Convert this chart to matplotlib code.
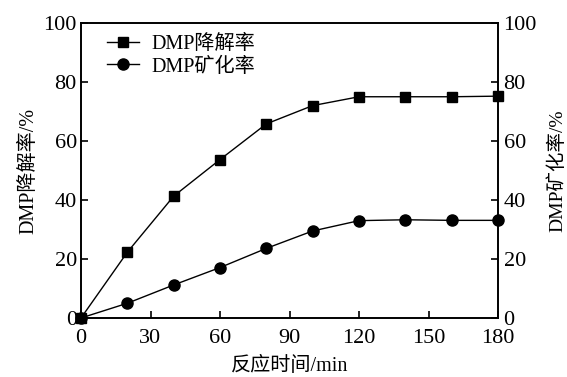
import matplotlib
matplotlib.use("Agg")
from matplotlib import pyplot as plt

plt.rcParams['font.family'] = ['Liberation Serif', 'Noto Sans CJK SC']
plt.rcParams['font.size'] = 14
plt.rcParams['axes.unicode_minus'] = False

# reaction time (min)
time = [0, 20, 40, 60, 80, 100, 120, 140, 160, 180]
# DMP degradation rate (%)
degradation = [0, 22.3, 41.3, 53.7, 65.8, 72.0, 75.0, 75.0, 75.0, 75.2]
# DMP mineralization rate (%)
mineralization = [0, 5.0, 11.2, 17.1, 23.6, 29.5, 33.0, 33.3, 33.1, 33.1]

x_ticks = [0, 30, 60, 90, 120, 150, 180]
y_ticks = [0, 20, 40, 60, 80, 100]

fig = plt.figure(figsize=(5.67, 3.77), dpi=100)
ax = fig.add_axes([81 / 567, 1 - 318 / 377, (498 - 81) / 567, (318 - 23) / 377])

ax.plot(time, degradation, color='black', lw=1, marker='s', ms=7,
        label='DMP降解率', clip_on=False, zorder=3)
ax.plot(time, mineralization, color='black', lw=1, marker='o', ms=8,
        label='DMP矿化率', clip_on=False, zorder=3)

ax.set_xlim(0, 180)
ax.set_ylim(0, 100)
ax.set_xticks(x_ticks)
ax.set_yticks(y_ticks)
ax.tick_params(axis='x', direction='in', length=5, width=1.2, labelsize=16, pad=8)
ax.tick_params(axis='y', direction='in', length=5, width=1.2, labelsize=16, pad=3)
ax.set_xlabel('反应时间/min', fontsize=14.5, labelpad=6)
ax.set_ylabel('DMP降解率/%', fontsize=14.5, labelpad=4)
for s in ax.spines.values():
    s.set_linewidth(1.2)

ax2 = ax.twinx()
ax2.set_ylim(0, 100)
ax2.set_yticks(y_ticks)
ax2.tick_params(direction='in', length=5, width=1.2, labelsize=16, pad=4)
ax2.set_ylabel('DMP矿化率/%', fontsize=14, rotation=90, labelpad=8)
for s in ax2.spines.values():
    s.set_linewidth(1.2)

leg = ax.legend(loc='upper left', bbox_to_anchor=(0.043, 0.986), frameon=False,
                fontsize=14.5, handlelength=1.6, handletextpad=0.6,
                labelspacing=0.15, borderaxespad=0.0)

fig.savefig('out.png', dpi=100)
